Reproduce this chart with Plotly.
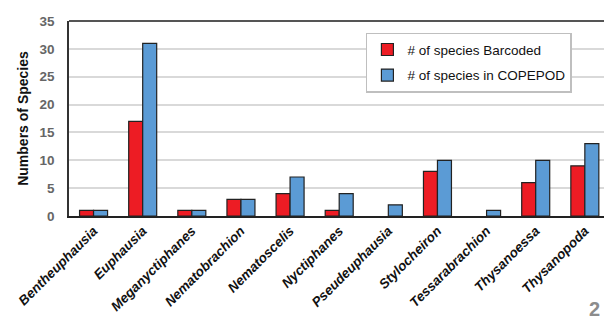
import plotly.graph_objects as go

genera = ["Bentheuphausia", "Euphausia", "Meganyctiphanes", "Nematobrachion",
          "Nematoscelis", "Nyctiphanes", "Pseudeuphausia", "Stylocheiron",
          "Tessarabrachion", "Thysanoessa", "Thysanopoda"]
barcoded = [1, 17, 1, 3, 4, 1, 0, 8, 0, 6, 9]
copepod = [1, 31, 1, 3, 7, 4, 2, 10, 1, 10, 13]
y_ticks = [0, 5, 10, 15, 20, 25, 30, 35]


def outline(vals):
    return [0 if v == 0 else 1.2 for v in vals]


fig = go.Figure()
fig.add_trace(go.Bar(x=genera, y=barcoded, name="# of species Barcoded",
                     legendgroup="a",
                     marker=dict(color="#ED1C24",
                                 line=dict(color="#222222", width=outline(barcoded)))))
fig.add_trace(go.Bar(x=genera, y=copepod, name="# of species in COPEPOD",
                     legendgroup="b",
                     marker=dict(color="#5B9BD5",
                                 line=dict(color="#222222", width=outline(copepod)))))

fig.update_layout(
    width=604, height=320,
    margin=dict(l=69, r=0, t=21, b=104, autoexpand=False),
    plot_bgcolor="white", paper_bgcolor="white",
    barmode="group", bargap=0.43, bargroupgap=0,
    font=dict(family="Liberation Sans, Arial, sans-serif", color="#222222"),
    legend=dict(x=0.555, y=0.94, xanchor="left", yanchor="top",
                bordercolor="#BFBFBF", borderwidth=1.5, bgcolor="white",
                font=dict(size=13.5, color="#111111"), tracegroupgap=5,
                traceorder="grouped", itemwidth=30),
    xaxis=dict(range=[-0.5, 10.39], tickangle=-45, showgrid=False, automargin=False,
               showline=True, linecolor="#222222", linewidth=1.5,
               ticks="", tickfont=dict(size=13.5, color="#111111",
                                       family="Liberation Sans, Arial, sans-serif",
                                       style="italic", weight="bold")),
    yaxis=dict(range=[0, 35], tickvals=y_ticks, showgrid=True, gridcolor="#D9D9D9",
               gridwidth=1.5, zeroline=False, showline=True, linecolor="#333333",
               linewidth=1.5, mirror=False, ticks="", automargin=False,
               ticklabelstandoff=10,
               tickfont=dict(size=13.5, color="#666666", weight="bold"),
               title=dict(text="Numbers of Species", standoff=8,
                          font=dict(size=14, color="#111111", weight="bold"))),
    shapes=[dict(type="line", xref="paper", yref="paper", x0=0, x1=1, y0=1, y1=1,
                 line=dict(color="#555555", width=2))],
    annotations=[dict(text="2", xref="paper", yref="paper", x=0.997, y=-0.41,
                      xanchor="right", yanchor="top", showarrow=False,
                      font=dict(size=20, color="#8C8C8C", weight="bold"))],
)
fig.write_html("out.html", post_script="document.body.style.margin='0';",
               config={"displayModeBar": False})
